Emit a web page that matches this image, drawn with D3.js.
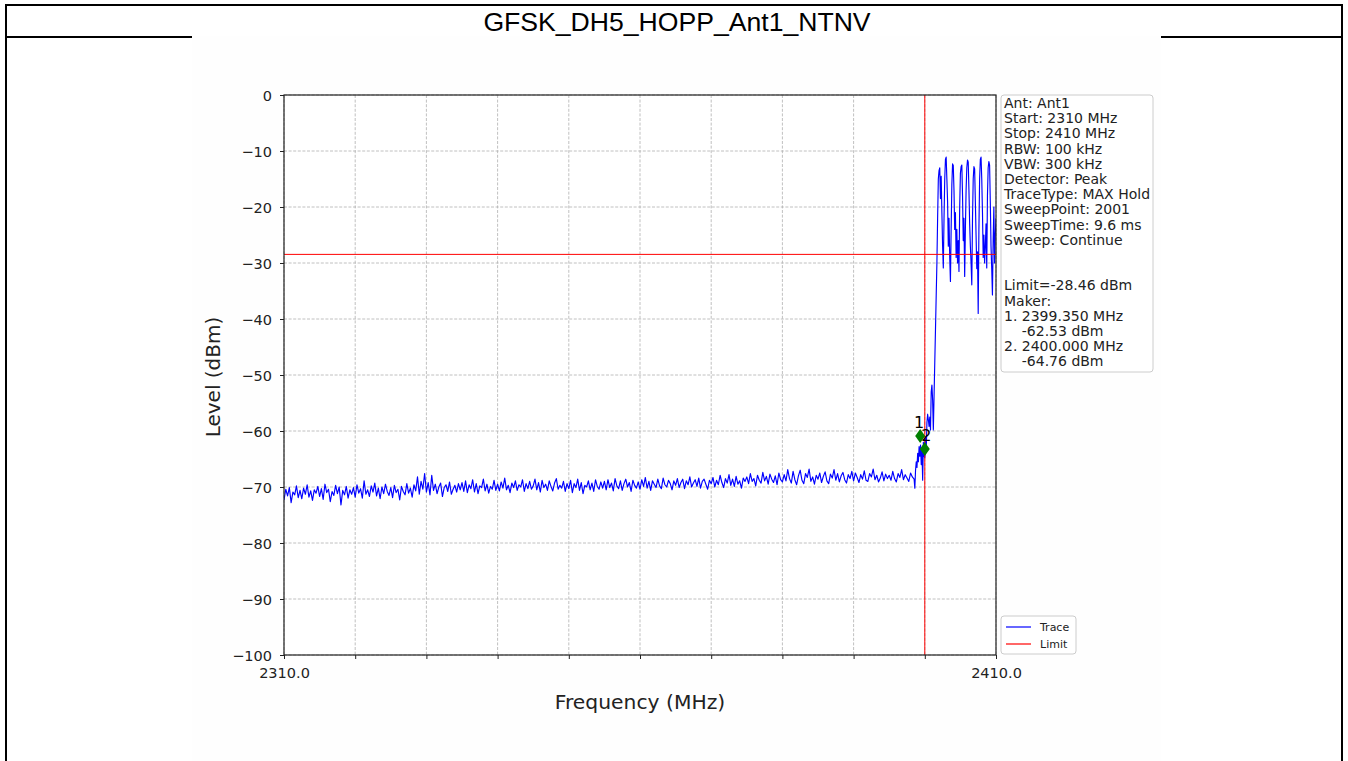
<!DOCTYPE html>
<html><head><meta charset="utf-8">
<script src="https://cdn.jsdelivr.net/npm/d3@7"></script>
<style>
html,body{margin:0;padding:0;background:#fff;}
svg{display:block;}
text{font-family:"DejaVu Sans",sans-serif;}
</style></head>
<body>
<svg id="chart" width="1348" height="761"></svg>
<script>
const title = "GFSK_DH5_HOPP_Ant1_NTNV";
const freqStart = 2310, freqStop = 2410;
const xTicks = [2310,2320,2330,2340,2350,2360,2370,2380,2390,2400,2410];
const xTickLabels = ["2310.0","","","","","","","","","","2410.0"];
const yTicks = [0,-10,-20,-30,-40,-50,-60,-70,-80,-90,-100];
const limitLevel = -28.46;
const markerFreqs = [2399.35, 2400.0];
const markerLevels = [-60.9, -63.2];
const markerNames = ["1","2"];
const infoLines = ["Ant: Ant1","Start: 2310 MHz","Stop: 2410 MHz","RBW: 100 kHz","VBW: 300 kHz","Detector: Peak","TraceType: MAX Hold","SweepPoint: 2001","SweepTime: 9.6 ms","Sweep: Continue","","","Limit=-28.46 dBm","Maker:","1. 2399.350 MHz","    -62.53 dBm","2. 2400.000 MHz","    -64.76 dBm"];
const legendNames = ["Trace","Limit"];

// noise floor levels, 2310.00 .. 2398.50 MHz, 0.25 MHz apart
const noiseStep = 0.25;
const noiseLevels = [
-72.3,-70.4,-71.6,-70.1,-72.8,-70.9,-71.4,-69.8,-71.9,-70.6,-72.1,-70.2,-71.3,-69.6,-71.8,-70.7,-72.4,-70.5,-71.1,-69.9,
-71.7,-70.3,-72.2,-69.5,-71.0,-70.4,-72.6,-70.8,-71.5,-69.7,-71.2,-70.0,-73.2,-70.6,-71.4,-69.9,-72.0,-70.5,-71.3,-70.1,
-71.8,-69.6,-71.1,-70.3,-72.0,-68.9,-71.3,-70.5,-71.7,-69.8,-70.9,-69.3,-71.6,-70.2,-72.1,-70.0,-71.2,-69.5,-70.8,-71.5,
-70.1,-71.9,-69.7,-71.0,-70.4,-72.3,-69.9,-70.8,-71.4,-69.4,-71.1,-70.2,-71.8,-69.6,-70.7,-68.2,-71.3,-69.0,-70.4,-67.6,
-70.9,-69.2,-71.4,-67.9,-70.6,-69.5,-71.2,-70.0,-69.3,-71.7,-70.1,-69.6,-70.8,-69.1,-71.3,-70.4,-69.7,-70.9,-69.4,-70.5,
-69.2,-70.8,-68.9,-71.0,-69.6,-70.3,-68.7,-70.9,-69.4,-71.2,-69.8,-70.1,-68.6,-70.7,-69.5,-71.1,-69.9,-70.4,-68.8,-70.6,
-69.5,-70.7,-69.1,-70.2,-68.4,-70.5,-69.7,-71.0,-69.3,-70.1,-68.9,-70.6,-69.6,-70.0,-68.7,-70.8,-69.4,-70.3,-69.0,-70.4,
-69.8,-68.6,-70.5,-69.2,-70.9,-68.8,-70.1,-69.5,-70.6,-68.9,-69.9,-70.7,-69.3,-68.5,-70.4,-69.7,-70.2,-69.0,-70.8,-69.4,
-70.3,-68.8,-71.0,-69.4,-70.1,-68.6,-70.6,-69.2,-71.2,-69.7,-70.0,-68.9,-70.5,-69.3,-70.8,-68.7,-69.9,-70.4,-69.1,-70.2,
-69.0,-70.5,-68.7,-70.1,-69.3,-70.7,-68.5,-69.8,-70.3,-68.9,-70.6,-69.4,-68.6,-70.0,-69.2,-70.8,-68.8,-69.7,-70.2,-69.1,
-70.4,-68.7,-69.9,-68.3,-70.2,-69.0,-70.6,-68.9,-69.5,-70.1,-68.6,-69.8,-70.3,-68.4,-69.6,-70.0,-68.8,-69.4,-70.5,-68.9,
-69.7,-68.5,-70.1,-69.2,-68.6,-70.3,-68.9,-69.6,-68.2,-70.0,-69.3,-68.7,-69.9,-68.4,-70.2,-69.0,-68.6,-69.5,-70.4,-68.8,
-69.4,-68.3,-70.0,-68.8,-69.6,-67.9,-69.2,-70.1,-68.5,-69.3,-67.8,-69.7,-68.6,-69.9,-68.1,-69.5,-68.9,-70.2,-68.4,-69.0,
-68.2,-69.4,-67.6,-69.0,-68.5,-69.8,-67.9,-68.8,-69.3,-67.4,-68.9,-68.1,-69.5,-67.7,-68.6,-69.2,-68.0,-69.6,-67.5,-68.7,
-69.1,-67.8,-68.9,-66.9,-68.5,-69.3,-67.2,-68.7,-69.6,-68.0,-67.0,-68.8,-69.4,-67.6,-68.3,-66.8,-69.0,-68.2,-69.5,-67.9,
-68.6,-67.5,-69.2,-68.1,-67.3,-68.9,-69.4,-67.7,-68.4,-66.9,-68.8,-67.6,-69.1,-68.0,-67.4,-68.7,-69.3,-67.8,-68.5,-67.2,
-68.9,-67.5,-68.3,-69.2,-67.8,-68.6,-67.1,-68.8,-69.0,-67.6,-68.2,-66.8,-68.7,-67.9,-69.1,-68.4,-67.3,-68.9,-67.7,-68.5,
-67.9,-68.8,-67.2,-68.5,-69.1,-67.6,-68.3,-66.9,-68.7,-67.8,-68.4,-69.0,-67.5,-68.2,-68.6
];
// band edge and hopping signal, explicit frequencies
const edgeFreqs = [2398.6,2398.7,2398.8,2398.9,2399.0,2399.1,2399.2,2399.3,2399.4,2399.5,2399.6,2399.7,2399.8,2399.9,2400.0,
2400.1,2400.2,2400.3,2400.4,2400.5,2400.6,2400.7,2400.8,2400.9,2401.0,2401.1,2401.2,2401.3,2401.4,2401.5,2401.6,2401.7,2401.8,2401.9,
2402.0,2402.1,2402.2,2402.3,2402.4,2402.5,2402.6,2402.7,2402.8,2402.9,2403.0,2403.1,2403.2,2403.3,2403.4,2403.5,2403.6,2403.7,2403.8,2403.9,
2404.0,2404.1,2404.2,2404.3,2404.4,2404.5,2404.6,2404.7,2404.8,2404.9,2405.0,2405.1,2405.2,2405.3,2405.4,2405.5,2405.6,2405.7,2405.8,2405.9,
2406.0,2406.1,2406.2,2406.3,2406.4,2406.5,2406.6,2406.7,2406.8,2406.9,2407.0,2407.1,2407.2,2407.3,2407.4,2407.5,2407.6,2407.7,2407.8,2407.9,
2408.0,2408.1,2408.2,2408.3,2408.4,2408.5,2408.6,2408.7,2408.8,2408.9,2409.0,2409.1,2409.2,2409.3,2409.4,2409.5,2409.6,2409.7,2409.8,2409.9,2410.0];
const edgeLevels = [-70.2,-67,-65.5,-66.5,-64,-65.5,-62.8,-64.5,-62.5,-66,-63.5,-68.8,-62,-64.5,-64.8,
-61,-63.5,-58.5,-57,-58,-59.2,-57.5,-59.8,-53,-51.8,-54.5,-59.8,-53.8,-47.8,-41.9,-35.9,-30,-22,-15,
-13.5,-13.0,-18.5,-14.5,-21,-27,-30.9,-22,-15,-11.5,-11.1,-15,-19,-27,-22,-29,-33.3,-24,-16,-12.3,
-12.6,-17,-24,-21,-29,-24,-30,-26,-31.5,-20,-14,-12.8,-12.5,-18,-26,-22,-32.4,-24,-17,-13,
-11.6,-12,-17,-23,-27,-30,-33.9,-22,-15,-12.8,-13.2,-19,-25,-31,-28,-39,-24,-15,-11.5,-11.1,
-15,-21,-29,-25,-30,-27,-23,-30.9,-18,-13,-11.9,-12.5,-19,-27,-31,-35.7,-26,-20,-30,-25,-22];

const svg = d3.select("#chart");
// outer frame
svg.append("rect").attr("x",6).attr("y",5).attr("width",1336).attr("height",770)
  .attr("fill","#fff").attr("stroke","#000").attr("stroke-width",2);
svg.append("line").attr("x1",7).attr("x2",1341).attr("y1",37).attr("y2",37).attr("stroke","#000").attr("stroke-width",2);
svg.append("text").attr("x",677).attr("y",31).attr("text-anchor","middle")
  .style("font-family","'Liberation Sans',Arial,sans-serif").style("font-size","26.6px").text(title);
// embedded figure background
svg.append("rect").attr("x",192).attr("y",36).attr("width",969).attr("height",725).attr("fill","#fefefe");

const L=284,R=996,T=95,B=655;
const x = d3.scaleLinear().domain([freqStart,freqStop]).range([L,R]);
const y = d3.scaleLinear().domain([-100,0]).range([B,T]);

svg.append("rect").attr("x",L).attr("y",T).attr("width",R-L).attr("height",B-T).attr("fill","#fff");

// grid
const grid = svg.append("g").attr("stroke","#b0b0b0").attr("stroke-width",0.8).attr("stroke-dasharray","3,1.6");
xTicks.forEach(v=>grid.append("line").attr("x1",x(v)).attr("x2",x(v)).attr("y1",T).attr("y2",B));
yTicks.forEach(v=>grid.append("line").attr("x1",L).attr("x2",R).attr("y1",y(v)).attr("y2",y(v)));

// trace
const pts = noiseLevels.map((v,i)=>[freqStart+i*noiseStep, v]).concat(edgeFreqs.map((f,i)=>[f, edgeLevels[i]]));
svg.append("clipPath").attr("id","clip").append("rect").attr("x",L).attr("y",T).attr("width",R-L).attr("height",B-T);
svg.append("path").attr("clip-path","url(#clip)")
  .attr("d", d3.line().x(d=>x(d[0])).y(d=>y(d[1]))(pts))
  .attr("fill","none").attr("stroke","#0000ff").attr("stroke-width",1.15).attr("stroke-linejoin","round");

// limit lines
svg.append("line").attr("x1",L).attr("x2",R).attr("y1",y(limitLevel)).attr("y2",y(limitLevel)).attr("stroke","#ff0000").attr("stroke-width",1);
svg.append("line").attr("x1",x(2400)).attr("x2",x(2400)).attr("y1",T).attr("y2",B).attr("stroke","#ff0000").attr("stroke-width",1);

// markers
const labelDx = [-1, 1.5];
markerFreqs.forEach((f,i)=>{
  const cx=x(f), cy=y(markerLevels[i]);
  svg.append("path").attr("d",`M${cx},${cy-7}L${cx+5},${cy}L${cx},${cy+7}L${cx-5},${cy}Z`).attr("fill","#008000");
  svg.append("text").attr("x",cx+labelDx[i]).attr("y",cy-8).attr("text-anchor","middle").style("font-size","16px").attr("fill","#000").text(markerNames[i]);
});

// axes
const xAxis = d3.axisBottom(x).tickValues(xTicks).tickFormat((d,i)=>xTickLabels[i]).tickSizeInner(4).tickSizeOuter(0).tickPadding(9);
const gx = svg.append("g").attr("transform",`translate(0,${B})`).call(xAxis);
const yAxis = d3.axisLeft(y).tickValues(yTicks).tickFormat(d=>d<0?"\u2212"+Math.abs(d):String(d)).tickSizeInner(4).tickSizeOuter(0).tickPadding(8);
const gy = svg.append("g").attr("transform",`translate(${L},0)`).call(yAxis);
[gx,gy].forEach(g=>{
  g.select(".domain").remove();
  g.selectAll("text").style("font-family","'DejaVu Sans',sans-serif").style("font-size","14.5px").attr("fill","#222");
  g.selectAll("line").attr("stroke","#222").attr("stroke-width",1);
});
gy.selectAll("text").attr("dy","0.36em");
svg.append("rect").attr("x",L).attr("y",T).attr("width",R-L).attr("height",B-T).attr("fill","none").attr("stroke","#222").attr("stroke-width",1.2);

svg.append("text").attr("x",640).attr("y",709).attr("text-anchor","middle").style("font-size","20.3px").attr("fill","#222").text("Frequency (MHz)");
svg.append("text").attr("transform","translate(220,377) rotate(-90)").attr("text-anchor","middle").style("font-size","20px").attr("fill","#222").text("Level (dBm)");

// info box
svg.append("rect").attr("x",1001).attr("y",95).attr("width",152).attr("height",277).attr("rx",3)
  .attr("fill","#fff").attr("stroke","#cccccc").attr("stroke-width",1);
const info = svg.append("text").style("font-size","14px").attr("fill","#222");
infoLines.forEach((s,i)=>{
  info.append("tspan").attr("x",1004).attr("y",108+i*15.2).style("white-space","pre").text(s);
});

// legend
svg.append("rect").attr("x",1001).attr("y",616).attr("width",75).attr("height",38).attr("rx",3)
  .attr("fill","#fff").attr("stroke","#cccccc").attr("stroke-width",1);
const legColors = ["#0000ff","#ff0000"];
legendNames.forEach((n,i)=>{
  const yy = 627+i*17;
  svg.append("line").attr("x1",1006).attr("x2",1031).attr("y1",yy).attr("y2",yy).attr("stroke",legColors[i]).attr("stroke-width",1.2);
  svg.append("text").attr("x",1040).attr("y",yy+4).style("font-size","11px").attr("fill","#222").text(n);
});
</script>
</body></html>
